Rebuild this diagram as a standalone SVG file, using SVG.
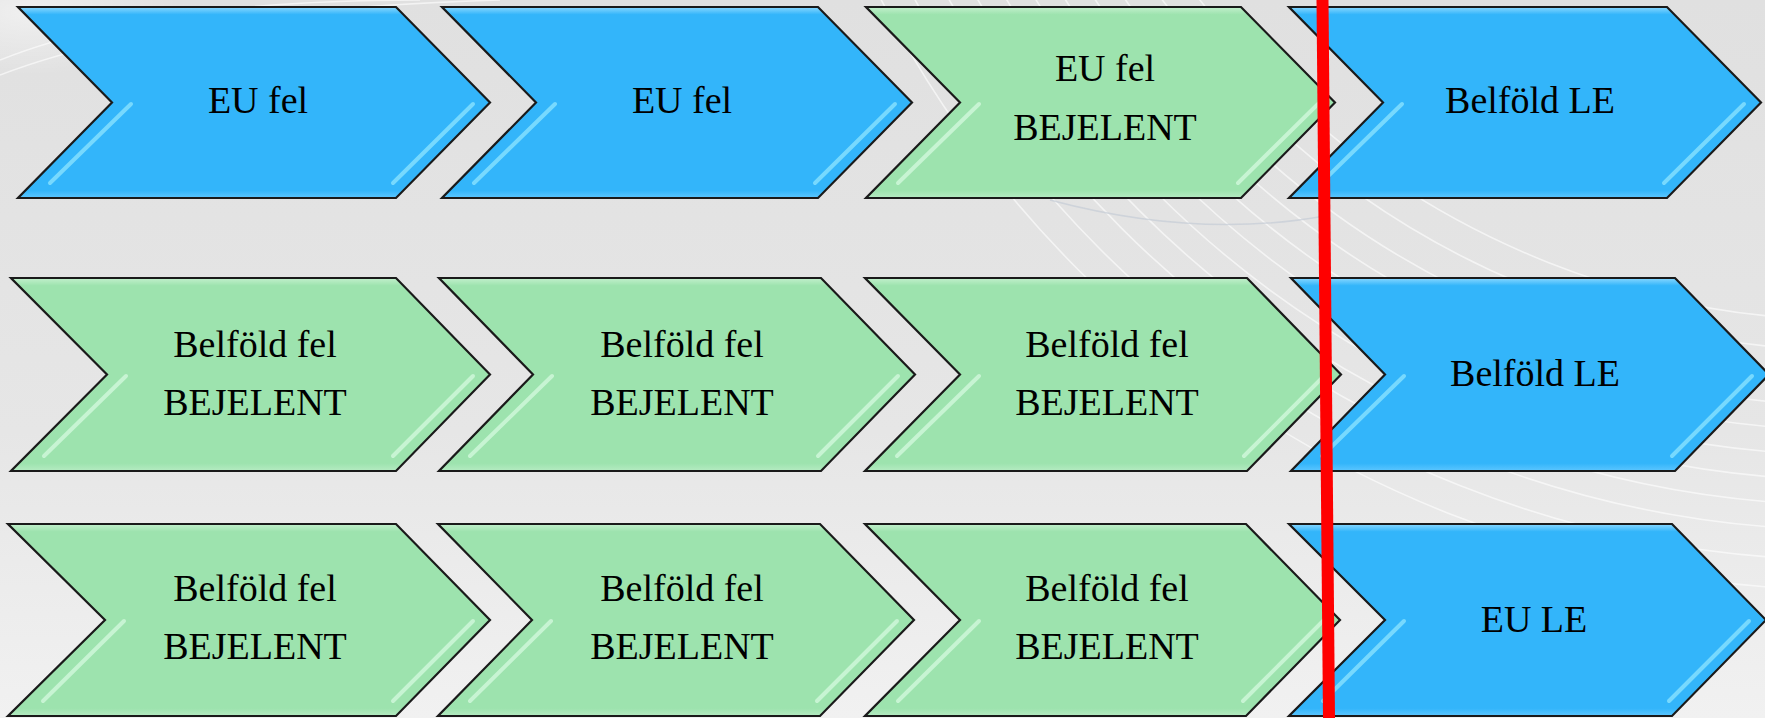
<svg xmlns="http://www.w3.org/2000/svg" width="1765" height="718" viewBox="0 0 1765 718">
<style>
.blue{fill:url(#gBlue);stroke:#1a1a1a;stroke-width:2.2;stroke-linejoin:miter}
.green{fill:url(#gGreen);stroke:#1a1a1a;stroke-width:2.2;stroke-linejoin:miter}
.hlB{stroke:#8fe6ff;stroke-width:4;stroke-linecap:round;opacity:0.75;fill:none}
.hlG{stroke:#d6fadf;stroke-width:4;stroke-linecap:round;opacity:0.75;fill:none}
.t{font-family:"Liberation Serif","Times New Roman",serif;font-size:38px;fill:#000;text-anchor:middle}
.arc{fill:none;stroke:#ffffff;stroke-width:1.6;opacity:0.6}
</style>
<defs>
<linearGradient id="bg" x1="0" y1="0" x2="0" y2="1">
<stop offset="0" stop-color="#e0e0e0"/>
<stop offset="0.6" stop-color="#e6e6e6"/>
<stop offset="1" stop-color="#f1f1f1"/>
</linearGradient>
<linearGradient id="gBlue" x1="0" y1="0" x2="0" y2="1">
<stop offset="0" stop-color="#8ad8ff"/>
<stop offset="0.04" stop-color="#33b5fa"/>
<stop offset="0.96" stop-color="#33b5fa"/>
<stop offset="1" stop-color="#5cc6ff"/>
</linearGradient>
<linearGradient id="gGreen" x1="0" y1="0" x2="0" y2="1">
<stop offset="0" stop-color="#c3f0cd"/>
<stop offset="0.04" stop-color="#9de3ae"/>
<stop offset="0.96" stop-color="#9de3ae"/>
<stop offset="1" stop-color="#b5ebc2"/>
</linearGradient>
<radialGradient id="tl" cx="0.05" cy="0.05" r="0.25">
<stop offset="0" stop-color="#ffffff" stop-opacity="0.5"/>
<stop offset="1" stop-color="#ffffff" stop-opacity="0"/>
</radialGradient>
</defs>

<rect x="0" y="0" width="1765" height="718" fill="url(#bg)"/>
<g id="background-swooshes">
<rect x="0" y="0" width="600" height="250" fill="url(#tl)"/>
<path class="arc" d="M 0 60 Q 150 0 420 0" opacity="0.4"/>
<path class="arc" d="M 0 75 Q 170 10 500 0" opacity="0.4"/>
<circle class="arc" cx="1850" cy="-500" r="820"/>
<circle class="arc" cx="1850" cy="-500" r="850"/>
<circle class="arc" cx="1850" cy="-500" r="880"/>
<circle class="arc" cx="1850" cy="-500" r="905"/>
<circle class="arc" cx="1850" cy="-500" r="930"/>
<circle class="arc" cx="1850" cy="-500" r="955"/>
<circle class="arc" cx="1850" cy="-500" r="980"/>
<circle class="arc" cx="1850" cy="-500" r="1005"/>
<circle class="arc" cx="1850" cy="-500" r="1030"/>
<circle class="arc" cx="1850" cy="-500" r="1060"/>
<circle class="arc" cx="1850" cy="-500" r="1090"/>
<path d="M 1050 200 Q 1200 240 1330 215" fill="none" stroke="#c4ccd6" stroke-width="1.5" opacity="0.7"/>
</g>

<g id="r1c1">
<polygon class="blue" points="18,7 396,7 490,102.5 396,198 18,198 112,102.5"/>
<line class="hlB" x1="131" y1="104" x2="50" y2="183"/>
<line class="hlB" x1="473" y1="104" x2="393" y2="183"/>
<text class="t" x="258" y="113">EU fel</text>
</g>
<g id="r1c2">
<polygon class="blue" points="442,7 818,7 912,102.5 818,198 442,198 536,102.5"/>
<line class="hlB" x1="555" y1="104" x2="474" y2="183"/>
<line class="hlB" x1="895" y1="104" x2="815" y2="183"/>
<text class="t" x="682" y="113">EU fel</text>
</g>
<g id="r1c3">
<polygon class="green" points="866,7 1241,7 1335,102.5 1241,198 866,198 960,102.5"/>
<line class="hlG" x1="979" y1="104" x2="898" y2="183"/>
<line class="hlG" x1="1318" y1="104" x2="1238" y2="183"/>
<text class="t" x="1105" y="81">EU fel</text>
<text class="t" x="1105" y="140">BEJELENT</text>
</g>
<g id="r1c4">
<polygon class="blue" points="1289,7 1667,7 1761,102.5 1667,198 1289,198 1383,102.5"/>
<line class="hlB" x1="1402" y1="104" x2="1321" y2="183"/>
<line class="hlB" x1="1744" y1="104" x2="1664" y2="183"/>
<text class="t" x="1530" y="113">Belföld LE</text>
</g>

<g id="r2c1">
<polygon class="green" points="11,278 396,278 490,374.5 396,471 11,471 107,374.5"/>
<line class="hlG" x1="126" y1="376" x2="44" y2="456"/>
<line class="hlG" x1="473" y1="376" x2="393" y2="456"/>
<text class="t" x="255" y="357">Belföld fel</text>
<text class="t" x="255" y="415">BEJELENT</text>
</g>
<g id="r2c2">
<polygon class="green" points="439,278 821,278 915,374.5 821,471 439,471 533,374.5"/>
<line class="hlG" x1="552" y1="376" x2="470" y2="456"/>
<line class="hlG" x1="898" y1="376" x2="818" y2="456"/>
<text class="t" x="682" y="357">Belföld fel</text>
<text class="t" x="682" y="415">BEJELENT</text>
</g>
<g id="r2c3">
<polygon class="green" points="865,278 1247,278 1341,374.5 1247,471 865,471 960,374.5"/>
<line class="hlG" x1="979" y1="376" x2="897" y2="456"/>
<line class="hlG" x1="1324" y1="376" x2="1244" y2="456"/>
<text class="t" x="1107" y="357">Belföld fel</text>
<text class="t" x="1107" y="415">BEJELENT</text>
</g>
<g id="r2c4">
<polygon class="blue" points="1291,278 1675,278 1769,374.5 1675,471 1291,471 1385,374.5"/>
<line class="hlB" x1="1404" y1="376" x2="1322" y2="456"/>
<line class="hlB" x1="1752" y1="376" x2="1672" y2="456"/>
<text class="t" x="1535" y="386">Belföld LE</text>
</g>

<g id="r3c1">
<polygon class="green" points="8,524 396,524 490,620 396,716 8,716 105,620"/>
<line class="hlG" x1="124" y1="621" x2="43" y2="701"/>
<line class="hlG" x1="473" y1="621" x2="393" y2="701"/>
<text class="t" x="255" y="601">Belföld fel</text>
<text class="t" x="255" y="659">BEJELENT</text>
</g>
<g id="r3c2">
<polygon class="green" points="438,524 820,524 914,620 820,716 438,716 532,620"/>
<line class="hlG" x1="551" y1="621" x2="470" y2="701"/>
<line class="hlG" x1="897" y1="621" x2="817" y2="701"/>
<text class="t" x="682" y="601">Belföld fel</text>
<text class="t" x="682" y="659">BEJELENT</text>
</g>
<g id="r3c3">
<polygon class="green" points="865,524 1246,524 1340,620 1246,716 865,716 960,620"/>
<line class="hlG" x1="979" y1="621" x2="898" y2="701"/>
<line class="hlG" x1="1323" y1="621" x2="1243" y2="701"/>
<text class="t" x="1107" y="601">Belföld fel</text>
<text class="t" x="1107" y="659">BEJELENT</text>
</g>
<g id="r3c4">
<polygon class="blue" points="1289,524 1672,524 1766,620 1672,716 1289,716 1385,620"/>
<line class="hlB" x1="1404" y1="621" x2="1323" y2="701"/>
<line class="hlB" x1="1749" y1="621" x2="1669" y2="701"/>
<text class="t" x="1534" y="632">EU LE</text>
</g>

<g id="connectors">
<line x1="1322.5" y1="0" x2="1329" y2="718" stroke="#ff0000" stroke-width="12"/>
</g>
</svg>
